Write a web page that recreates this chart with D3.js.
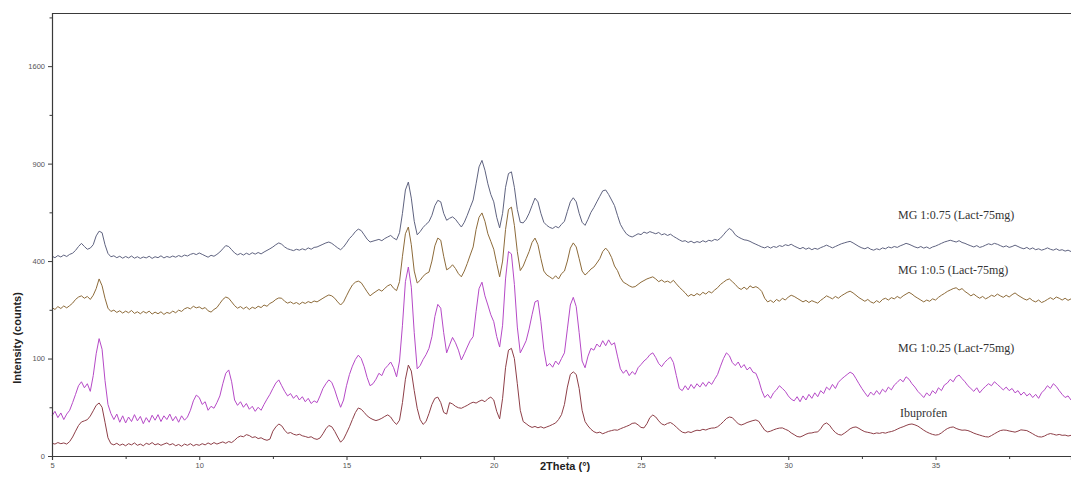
<!DOCTYPE html>
<html>
<head>
<meta charset="utf-8">
<script src="https://cdn.jsdelivr.net/npm/d3@7"></script>
<style>
  html, body { margin: 0; padding: 0; background: #fff; }
  svg { display: block; }
</style>
</head>
<body>
<svg id="chart" width="1071" height="479"></svg>
<script>
// Powder XRD scans, 2θ from 5.0° in 0.1° steps (intensities in counts)
const scanStart = 5.0;
const scanStep = 0.1;

const seriesNames = ["MG 1:0.75 (Lact-75mg)", "MG 1:0.5 (Lact-75mg)", "MG 1:0.25 (Lact-75mg)", "Ibuprofen"];

const mg075 = [
  420,414,423,417,425,419,428,433,445,462,
  476,462,450,455,470,510,532,525,470,432,
  418,422,414,420,412,419,413,421,412,418,
  411,417,413,420,411,418,414,422,413,419,
  415,421,416,423,418,425,421,428,432,427,
  434,428,422,416,424,420,428,438,452,466,
  462,448,434,426,432,425,433,427,435,429,
  436,430,438,445,452,460,470,478,472,460,
  452,448,444,450,446,452,447,456,450,458,
  460,466,472,478,482,476,466,456,448,460,
  478,498,512,530,542,535,515,495,482,486,
  490,494,488,498,505,512,500,492,525,620,
  745,790,700,580,515,530,550,565,578,610,
  660,688,680,620,585,595,602,590,570,552,
  575,610,650,690,780,880,920,860,780,720,
  680,600,548,620,760,840,850,760,640,575,
  572,590,620,660,700,680,620,575,560,550,
  545,555,548,565,580,630,680,702,680,620,
  575,560,590,625,650,680,710,740,745,720,
  690,660,610,565,540,520,510,505,512,520,
  516,528,522,530,525,520,526,515,520,512,
  518,508,500,492,485,488,480,486,478,484,
  480,488,482,490,486,494,490,500,515,532,
  545,535,515,505,498,492,490,485,478,472,
  466,460,456,462,455,462,458,466,462,470,
  466,472,464,458,452,458,450,456,448,454,
  450,457,462,468,462,456,462,468,474,478,
  482,485,478,470,462,456,452,458,450,446,
  452,448,456,452,460,456,462,458,465,470,
  476,472,466,460,456,462,455,460,453,460,
  464,470,476,482,486,490,486,482,488,480,
  476,470,465,460,466,458,462,468,474,470,
  476,472,466,460,465,458,462,468,462,456,
  452,458,450,456,448,452,446,450,456,450,
  446,452,445,448,442,446,440
];

const mg05 = [
  232,226,235,229,237,231,238,246,258,266,
  270,262,268,258,272,295,330,305,262,230,
  220,224,217,222,215,221,216,223,214,219,
  213,220,215,221,212,218,213,219,211,217,
  214,221,216,224,220,228,232,228,236,231,
  234,228,232,222,218,226,232,245,258,266,
  262,250,238,230,235,228,234,226,233,229,
  236,232,240,236,245,250,258,263,262,252,
  246,250,244,248,242,249,245,251,247,253,
  250,256,262,268,273,270,262,250,240,250,
  270,290,308,318,322,316,300,284,270,278,
  285,292,286,296,305,310,296,288,320,420,
  520,552,470,360,315,325,340,350,356,400,
  465,500,490,420,365,372,385,370,350,338,
  360,390,425,460,540,600,622,580,520,485,
  450,390,338,400,540,640,652,560,440,362,
  380,410,440,480,500,470,410,360,345,338,
  330,342,330,350,360,400,455,478,460,410,
  360,345,355,368,376,392,410,440,455,440,
  415,380,362,335,318,312,305,300,302,310,
  318,324,330,334,338,330,320,326,318,322,
  316,325,312,300,290,280,268,275,270,278,
  272,282,276,285,280,290,298,310,318,326,
  330,320,310,298,292,300,292,305,298,302,
  296,285,262,250,255,248,258,252,262,256,
  266,272,268,262,256,250,255,248,254,250,
  246,255,262,270,265,260,268,262,270,276,
  282,286,280,272,264,258,252,258,250,246,
  254,248,258,262,256,264,260,268,262,270,
  276,282,276,268,262,256,250,256,252,260,
  256,265,272,278,285,290,295,298,290,295,
  285,278,270,276,268,262,268,260,265,272,
  268,276,270,265,272,266,274,280,272,266,
  260,256,262,254,250,256,248,252,258,264,
  258,266,262,256,262,255,260
];

const mg025 = [
  17,21,15.5,19.5,14,18.5,22,30,40,52,
  58,49,55,44,68,110,145,120,60,28,
  19,14,18.5,12,17,11.5,16,12.5,18,13,
  16.5,11,15.5,12,17.5,13.5,18,12.5,17,14,
  18.5,13,16.5,12,17,13.5,16,22,32,39,
  36,28,31,22,26,24,30,38,55,72,
  78,58,33,27,31,25,29,23,26,21,
  25,22,28,34,40,48,56,61,52,44,
  38,41,35,39,33,37,31,35,29,32,
  30,38,48,55,61,57,46,34,25,33,
  52,70,85,98,107,100,84,65,52,55,
  62,72,68,80,86,93,82,66,95,180,
  320,376,300,160,80,86,98,108,122,150,
  205,242,230,160,112,130,148,135,118,97,
  110,125,140,150,220,295,318,270,240,210,
  190,150,125,180,330,440,430,310,175,112,
  125,140,170,210,250,255,190,120,85,90,
  83,95,88,100,112,170,240,265,235,160,
  95,82,105,122,118,132,125,140,128,142,
  130,135,105,80,72,78,68,75,70,82,
  88,95,100,108,112,102,90,84,92,98,
  103,92,68,48,45,52,46,54,48,55,
  50,57,51,58,54,62,70,85,100,112,
  106,92,86,93,82,88,78,83,74,72,
  60,45,36,40,35,42,46,52,48,44,
  38,34,32,37,31,38,33,40,35,42,
  37,45,41,50,46,54,48,57,62,66,
  70,74,71,63,55,48,42,37,43,39,
  45,40,47,43,50,46,53,57,62,58,
  66,62,55,50,44,40,36,42,38,45,
  41,49,45,53,56,62,58,66,69,63,
  58,52,48,44,49,42,47,51,55,52,
  58,54,50,46,50,45,48,42,45,39,
  43,38,41,36,40,35,42,46,52,48,
  55,51,45,40,36,38,33
];

const ibuprofen = [
  1.7,1.5,1.9,1.6,1.8,1.5,2.2,3.8,6.5,9.8,
  12.2,13.0,13.9,16.8,21.5,27.0,29.6,25.0,12.0,3.5,
  1.6,1.3,1.7,1.2,1.5,1.1,1.6,1.3,1.8,1.2,
  1.5,1.1,1.7,1.4,1.9,1.3,1.6,1.2,1.5,1.8,
  1.3,1.6,1.1,1.4,1.0,1.5,1.2,1.6,1.1,1.4,
  1.2,1.6,1.3,1.8,1.4,1.9,1.5,1.8,2.1,1.7,
  2.2,1.9,2.6,3.6,4.2,3.9,4.8,4.4,3.6,3.9,
  3.2,3.5,2.9,2.6,3.0,6.5,8.9,10.8,9.6,7.0,
  5.4,5.8,5.0,4.6,5.0,4.3,4.0,3.6,3.9,3.2,
  2.9,3.4,5.2,7.8,9.8,9.0,6.4,3.8,2.0,3.0,
  5.5,9.0,14.0,19.8,24.3,23.0,20.0,17.0,15.2,14.0,
  13.2,13.9,15.0,16.5,17.8,16.0,12.5,10.5,13.5,30.0,
  62,87,76,45,24,14,10.5,12.5,19,28,
  35,36.5,30,20,18.5,30,28.5,26,24.5,24,
  25.5,27,29,30.5,29.5,31.5,33,31,34.5,36.5,
  33,21,14.5,35,82,118,122,100,55,22,
  12.5,11,9.5,8.6,9.2,8.4,9.0,8.2,8.9,9.6,
  10.5,11.5,14,18,28,50,70,74.5,70,48,
  22,12.5,9.5,7.5,6.2,5.6,6.0,5.2,5.8,6.4,
  6.8,7.2,7.0,7.8,8.5,9.2,10.0,11.2,11.5,10.2,
  8.6,8.3,11.0,15.5,17.7,16.0,13.0,10.8,10.1,11.2,
  11.8,10.5,8.8,7.2,6.0,5.6,6.2,5.8,6.5,7.0,
  6.8,7.5,7.1,7.8,8.2,8.3,9.0,10.5,12.5,14.8,
  16.0,15.5,13.0,11.0,10.1,10.8,11.8,12.5,13.2,13.7,
  12.6,9.5,7.0,6.1,6.5,7.2,7.8,8.2,8.3,7.5,
  6.8,5.6,4.8,4.0,3.8,4.3,5.0,5.5,5.6,6.0,
  6.1,7.8,10.5,11.5,10.0,7.5,5.8,4.9,4.6,5.4,
  6.5,7.8,8.6,8.9,8.0,7.0,6.2,5.9,5.6,5.2,
  5.6,5.4,5.8,5.5,6.0,6.3,6.8,7.6,8.4,9.0,
  9.8,10.5,10.8,10.2,9.4,8.2,7.0,6.1,5.4,4.9,
  4.6,4.8,5.6,6.8,7.9,8.6,8.9,8.0,7.4,7.0,
  7.1,6.8,6.2,5.5,5.0,4.6,4.2,3.9,3.8,4.4,
  5.2,6.0,6.8,7.1,7.0,6.6,6.3,6.0,6.5,7.2,
  7.0,6.8,6.0,5.2,4.4,3.9,3.8,4.2,4.9,5.3,
  5.0,4.6,4.9,4.5,4.6,4.2,4.5
];

const yTickValues = [0, 100, 400, 900, 1600];
const yMinorValues = [25, 225, 625, 1225, 2025];
const xTickValues = [5, 10, 15, 20, 25, 30, 35];
const xMinorValues = [7.5, 12.5, 17.5, 22.5, 27.5, 32.5, 37.5];

const seriesColors = ["#5f6380", "#8d6b3a", "#b64ac7", "#8e3f48"];
const labelPositions = [[898, 219], [898, 274], [898, 352], [900, 417]];

(function drawChart() {
  const svg = d3.select("#chart");
  const plotLeft = 52, plotRight = 1071, plotTop = 13, plotBottom = 456;

  const x = d3.scaleLinear().domain([5, 39.6]).range([plotLeft, plotRight]);
  const y = d3.scaleSqrt().domain([0, 2066]).range([plotBottom, plotTop]);

  const axisColor = "#3a3a3a";
  const sans = "Arial, 'Liberation Sans', sans-serif";

  // frame: top edge
  svg.append("line")
    .attr("x1", plotLeft).attr("x2", plotRight)
    .attr("y1", plotTop + 0.5).attr("y2", plotTop + 0.5)
    .attr("stroke", axisColor).attr("stroke-width", 1.2);

  // traces
  const allSeries = [mg075, mg05, mg025, ibuprofen];
  const line = d3.line()
    .x((d, i) => x(scanStart + i * scanStep))
    .y(d => y(d));

  allSeries.forEach((vals, k) => {
    svg.append("path")
      .datum(vals)
      .attr("fill", "none")
      .attr("stroke", seriesColors[k])
      .attr("stroke-width", 1)
      .attr("stroke-linejoin", "round")
      .attr("d", line);
  });

  // y axis with minor ticks
  const yAxis = svg.append("g").attr("transform", `translate(${plotLeft},0)`)
    .call(d3.axisLeft(y).tickValues(yTickValues).tickSize(4).tickPadding(3).tickFormat(d3.format("d")));
  const yMinor = yAxis.append("g").call(d3.axisLeft(y).tickValues(yMinorValues).tickSize(2.5).tickFormat(""));
  yMinor.select(".domain").remove();
  yAxis.select(".domain").attr("stroke", axisColor).attr("stroke-width", 1.2)
    .attr("d", `M0.5,${plotBottom}V${plotTop}`);
  yAxis.selectAll("line").attr("stroke", axisColor);
  yAxis.selectAll("text").attr("font-family", sans).attr("font-size", 7.5).attr("fill", "#555");

  // x axis with minor ticks
  const xAxis = svg.append("g").attr("transform", `translate(0,${plotBottom})`)
    .call(d3.axisBottom(x).tickValues(xTickValues).tickSize(4).tickPadding(3).tickFormat(d3.format("d")));
  const xMinor = xAxis.append("g").call(d3.axisBottom(x).tickValues(xMinorValues).tickSize(3).tickFormat(""));
  xMinor.select(".domain").remove();
  xAxis.select(".domain").attr("stroke", axisColor).attr("stroke-width", 1.2);
  xAxis.selectAll("line").attr("stroke", axisColor);
  xAxis.selectAll("text").attr("font-family", sans).attr("font-size", 7.5).attr("fill", "#555");

  // axis titles
  svg.append("text")
    .attr("transform", "translate(21,338) rotate(-90)")
    .attr("text-anchor", "middle")
    .attr("font-family", sans)
    .attr("font-weight", "bold").attr("font-size", 11).attr("fill", "#222")
    .text("Intensity (counts)");

  svg.append("text")
    .attr("x", 540).attr("y", 470)
    .attr("font-family", sans)
    .attr("font-weight", "bold").attr("font-size", 11).attr("fill", "#222")
    .text("2Theta (°)");

  // series labels
  seriesNames.forEach((name, k) => {
    svg.append("text")
      .attr("x", labelPositions[k][0]).attr("y", labelPositions[k][1])
      .attr("font-family", "'Liberation Serif', 'Times New Roman', serif")
      .attr("font-size", 12).attr("fill", "#333")
      .text(name);
  });
})();
</script>
</body>
</html>
